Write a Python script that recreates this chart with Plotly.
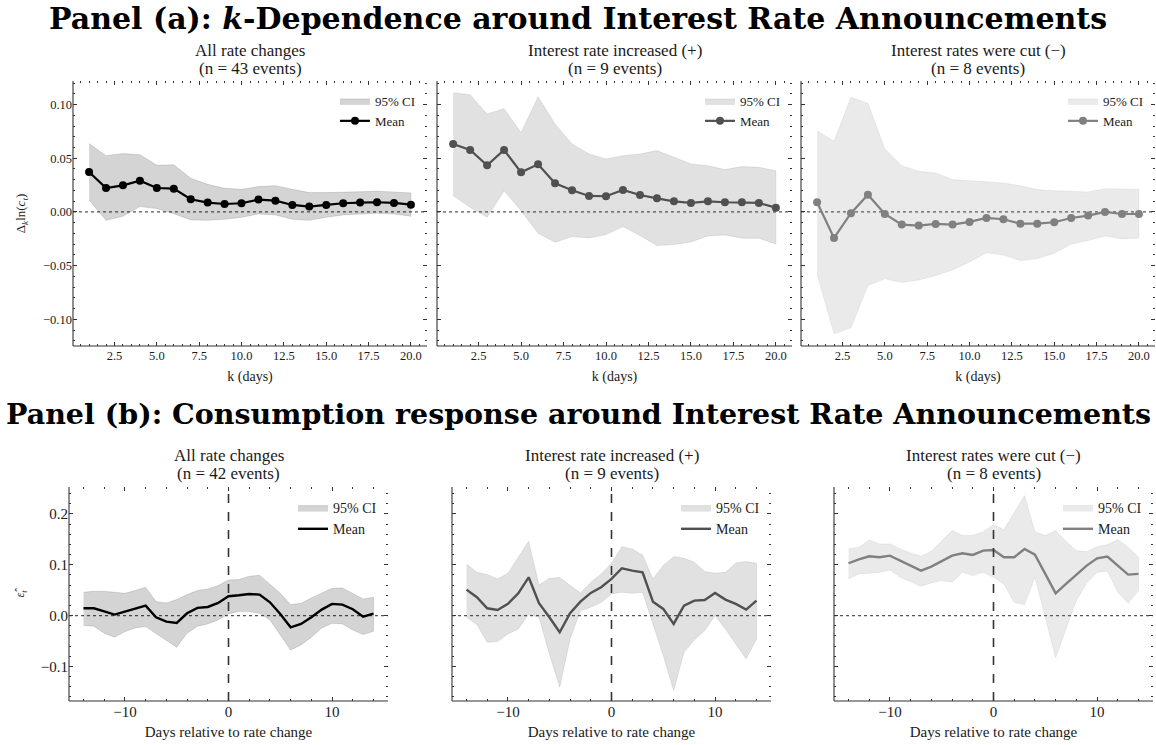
import plotly.graph_objects as go

# ---------------- data ----------------
k_days = list(range(1, 21))
event_days = list(range(-14, 15))

# Panel (a): k-dependence of Δk ln(c_t)
a_all_mean = [0.0372, 0.0223, 0.0248, 0.0291, 0.0223, 0.0217, 0.0118, 0.0087, 0.0074, 0.0081,
              0.0115, 0.0105, 0.0065, 0.0050, 0.0065, 0.0081, 0.0087, 0.0090, 0.0084, 0.0068]
a_all_hi = [0.0636, 0.0524, 0.0543, 0.0533, 0.0434, 0.0440, 0.0313, 0.0257, 0.0220, 0.0211,
            0.0236, 0.0245, 0.0211, 0.0180, 0.0180, 0.0186, 0.0186, 0.0192, 0.0186, 0.0177]
a_all_lo = [0.0112, -0.0078, -0.0040, 0.0050, 0.0031, -0.0016, -0.0074, -0.0078, -0.0068, -0.0050,
            -0.0019, -0.0028, -0.0068, -0.0078, -0.0050, -0.0028, -0.0019, -0.0012, -0.0019, -0.0040]

a_up_mean = [0.0633, 0.0577, 0.0434, 0.0577, 0.0369, 0.0443, 0.0267, 0.0202, 0.0149, 0.0146,
             0.0205, 0.0158, 0.0127, 0.0099, 0.0084, 0.0099, 0.0090, 0.0090, 0.0084, 0.0040]
a_up_hi = [0.1110, 0.1091, 0.0912, 0.0961, 0.0738, 0.1073, 0.0819, 0.0633, 0.0540, 0.0493,
           0.0524, 0.0540, 0.0571, 0.0509, 0.0447, 0.0431, 0.0394, 0.0422, 0.0416, 0.0384]
a_up_lo = [0.0152, 0.0043, -0.0050, 0.0198, 0.0012, -0.0198, -0.0282, -0.0229, -0.0242, -0.0211,
           -0.0136, -0.0220, -0.0313, -0.0304, -0.0279, -0.0223, -0.0214, -0.0245, -0.0245, -0.0298]

a_cut_mean = [0.0090, -0.0242, -0.0012, 0.0161, -0.0019, -0.0118, -0.0127, -0.0112, -0.0118, -0.0093,
              -0.0056, -0.0068, -0.0109, -0.0109, -0.0096, -0.0056, -0.0034, 0.0000, -0.0019, -0.0019]
a_cut_hi = [0.0757, 0.0657, 0.1067, 0.1011, 0.0586, 0.0431, 0.0378, 0.0363, 0.0301, 0.0291,
            0.0276, 0.0270, 0.0245, 0.0208, 0.0198, 0.0192, 0.0186, 0.0217, 0.0214, 0.0211]
a_cut_lo = [-0.0577, -0.1135, -0.1079, -0.0685, -0.0623, -0.0657, -0.0633, -0.0592, -0.0540, -0.0465,
            -0.0381, -0.0400, -0.0453, -0.0434, -0.0384, -0.0298, -0.0267, -0.0223, -0.0251, -0.0242]

# Panel (b): consumption residual around the announcement day
b_all_mean = [0.0144, 0.0144, 0.0085, 0.0020, 0.0079, 0.0144, 0.0197, -0.0033, -0.0118, -0.0144,
              0.0046, 0.0151, 0.0170, 0.0249, 0.0380, 0.0400, 0.0426, 0.0413, 0.0262, 0.0033,
              -0.0230, -0.0164, -0.0033, 0.0118, 0.0230, 0.0216, 0.0125, -0.0020, 0.0039]
b_all_hi = [0.0459, 0.0479, 0.0479, 0.0459, 0.0439, 0.0492, 0.0557, 0.0275, 0.0249, 0.0315,
            0.0413, 0.0492, 0.0525, 0.0590, 0.0702, 0.0708, 0.0774, 0.0793, 0.0623, 0.0439,
            0.0216, 0.0243, 0.0348, 0.0439, 0.0538, 0.0544, 0.0439, 0.0328, 0.0361]
b_all_lo = [-0.0197, -0.0210, -0.0348, -0.0426, -0.0315, -0.0243, -0.0216, -0.0361, -0.0492, -0.0623,
            -0.0348, -0.0210, -0.0164, -0.0085, 0.0033, 0.0085, 0.0079, 0.0046, -0.0085, -0.0380,
            -0.0675, -0.0577, -0.0426, -0.0243, -0.0151, -0.0164, -0.0282, -0.0374, -0.0308]

b_up_mean = [0.0511, 0.0361, 0.0144, 0.0111, 0.0230, 0.0439, 0.0754, 0.0243, -0.0033, -0.0328,
             0.0046, 0.0275, 0.0446, 0.0557, 0.0721, 0.0931, 0.0885, 0.0852, 0.0275, 0.0131,
             -0.0164, 0.0197, 0.0295, 0.0308, 0.0446, 0.0315, 0.0230, 0.0118, 0.0295]
b_up_hi = [0.1016, 0.0852, 0.0807, 0.0721, 0.0833, 0.1148, 0.1462, 0.0603, 0.0734, 0.0748,
           0.0590, 0.0446, 0.0656, 0.0820, 0.1030, 0.1357, 0.1311, 0.1193, 0.0721, 0.0984,
           0.1161, 0.1128, 0.1049, 0.0866, 0.0833, 0.0852, 0.1036, 0.1062, 0.1030]
b_up_lo = [-0.0033, -0.0177, -0.0525, -0.0511, -0.0361, -0.0262, 0.0020, -0.0033, -0.0754, -0.1410,
           -0.0459, 0.0098, 0.0164, 0.0262, 0.0426, 0.0459, 0.0439, 0.0459, -0.0164, -0.0787,
           -0.1475, -0.0721, -0.0479, -0.0295, 0.0000, -0.0262, -0.0544, -0.0852, -0.0459]

b_cut_mean = [0.1030, 0.1108, 0.1167, 0.1148, 0.1180, 0.1082, 0.0977, 0.0885, 0.0964, 0.1069,
              0.1180, 0.1226, 0.1193, 0.1279, 0.1292, 0.1148, 0.1148, 0.1311, 0.1200, 0.0820,
              0.0439, 0.0623, 0.0807, 0.0984, 0.1128, 0.1161, 0.0984, 0.0807, 0.0820]
b_cut_hi = [0.1311, 0.1344, 0.1489, 0.1410, 0.1410, 0.1311, 0.1233, 0.1167, 0.1266, 0.1462,
            0.1672, 0.1574, 0.1574, 0.1652, 0.1790, 0.1692, 0.2033, 0.2361, 0.1652, 0.1574,
            0.1672, 0.1456, 0.1279, 0.1259, 0.1357, 0.1397, 0.1495, 0.1344, 0.1148]
b_cut_lo = [0.0721, 0.0820, 0.0833, 0.0852, 0.0898, 0.0754, 0.0669, 0.0577, 0.0643, 0.0689,
            0.0656, 0.0852, 0.0787, 0.0852, 0.0754, 0.0623, 0.0262, 0.0216, 0.0754, -0.0033,
            -0.0833, -0.0262, 0.0295, 0.0636, 0.0852, 0.0872, 0.0459, 0.0243, 0.0492]

titles_a = [("All rate changes", "(n = 43 events)"),
            ("Interest rate increased (+)", "(n = 9 events)"),
            ("Interest rates were cut (\u2212)", "(n = 8 events)")]
titles_b = [("All rate changes", "(n = 42 events)"),
            ("Interest rate increased (+)", "(n = 9 events)"),
            ("Interest rates were cut (\u2212)", "(n = 8 events)")]
shade_rgb = [(0, 0, 0), (80, 80, 80), (128, 128, 128)]

# ---------------- layout geometry (pixels) ----------------
W, H = 1156, 745
SERIF = "Liberation Serif, Times New Roman, serif"
TXT = "#1a1a1a"
AXC = "#333333"

a_cols = [(73, 427), (437, 792), (801, 1155)]
b_cols = [(69, 388), (452, 771), (834, 1153)]
a_rows = (81, 346)
b_rows = (487, 701)


def xd(px):
    return [px[0] / W, px[1] / W]


def yd(px):
    return [1 - px[1] / H, 1 - px[0] / H]


fig = go.Figure()
layout = dict(
    width=W, height=H,
    margin=dict(l=0, r=0, t=0, b=0),
    paper_bgcolor="white", plot_bgcolor="white",
    font=dict(family=SERIF, color=TXT),
    showlegend=True,
)
shapes = []
annotations = []

panels = [
    ("a", k_days, [(a_all_mean, a_all_hi, a_all_lo), (a_up_mean, a_up_hi, a_up_lo),
                   (a_cut_mean, a_cut_hi, a_cut_lo)], a_cols, a_rows, titles_a, (55, 73)),
    ("b", event_days, [(b_all_mean, b_all_hi, b_all_lo), (b_up_mean, b_up_hi, b_up_lo),
                       (b_cut_mean, b_cut_hi, b_cut_lo)], b_cols, b_rows, titles_b, (460, 478)),
]

idx = 0
for pname, xs, series, cols, rows, titles, baselines in panels:
    for j, ((mean, hi, lo), col, title) in enumerate(zip(series, cols, titles)):
        idx += 1
        sfx = "" if idx == 1 else str(idx)
        xr, yr = "x" + sfx, "y" + sfx
        lg = "legend" + sfx
        r, g, b = shade_rgb[j]
        line_c = f"rgb({r},{g},{b})"
        fill_c = f"rgba({r},{g},{b},0.17)"
        edge_c = f"rgba({r},{g},{b},0.12)"

        # confidence band as closed polygon
        fig.add_trace(go.Scatter(
            x=xs + xs[::-1], y=hi + lo[::-1], xaxis=xr, yaxis=yr,
            mode="lines", fill="toself", fillcolor=fill_c,
            line=dict(color=edge_c, width=1), name="95% CI",
            legend=lg, hoverinfo="skip"))
        # mean path
        if pname == "a":
            fig.add_trace(go.Scatter(
                x=xs, y=mean, xaxis=xr, yaxis=yr, mode="lines+markers",
                line=dict(color=line_c, width=2.2),
                marker=dict(color=line_c, size=8), name="Mean", legend=lg))
        else:
            fig.add_trace(go.Scatter(
                x=xs, y=mean, xaxis=xr, yaxis=yr, mode="lines",
                line=dict(color=line_c, width=2.4), name="Mean", legend=lg))

        if pname == "a":
            xrange_, yrange_ = [0.05, 20.95], [-0.1248, 0.1219]
            xmaj, xmin_, ymaj, ymin_ = 2.5, 0.5, 0.05, 0.01
            xfmt, yfmt, tfs, lfs = ".1f", ".2f", 12.5, 13
            xtitle = dict(text="k (days)", font=dict(size=14), standoff=9)
        else:
            xrange_, yrange_ = [-15.4, 15.4], [-0.168, 0.253]
            xmaj, xmin_, ymaj, ymin_ = 10, 2, 0.1, 0.02
            xfmt, yfmt, tfs, lfs = "d", ".1f", 15, 14
            xtitle = dict(text="Days relative to rate change", font=dict(size=15), standoff=7)

        common = dict(ticks="inside", ticklen=4, tickwidth=0.8, tickcolor=AXC,
                      mirror="ticks", showline=False, showgrid=False, zeroline=False,
                      tickfont=dict(size=tfs, color=TXT))
        layout["xaxis" + sfx] = dict(
            domain=xd(col), anchor=yr, range=xrange_, dtick=xmaj, tick0=0,
            tickformat=xfmt, title=xtitle,
            minor=dict(ticks="inside", ticklen=2, tickwidth=0.7, tickcolor=AXC, dtick=xmin_),
            **common)
        ytitle = None
        if j == 0:
            if pname == "a":
                ytitle = dict(text="\u0394<sub><i>k</i></sub>ln(<i>c<sub>t</sub></i>)",
                              font=dict(size=13), standoff=14)
            else:
                ytitle = dict(text="<i>\u03b5\u0302<sub>t</sub></i>",
                              font=dict(size=12), standoff=13)
        layout["yaxis" + sfx] = dict(
            domain=yd(rows), anchor=xr, range=yrange_, dtick=ymaj, tick0=0,
            tickformat=yfmt, showticklabels=(j == 0), title=ytitle,
            minor=dict(ticks="inside", ticklen=2, tickwidth=0.7, tickcolor=AXC, dtick=ymin_),
            **common)

        # left and bottom spines
        dom_x, dom_y = xr + " domain", yr + " domain"
        shapes.append(dict(type="line", xref=dom_x, yref=dom_y, x0=0, x1=0, y0=0, y1=1,
                           line=dict(color=AXC, width=1.1)))
        shapes.append(dict(type="line", xref=dom_x, yref=dom_y, x0=0, x1=1, y0=0, y1=0,
                           line=dict(color=AXC, width=1.1)))
        # zero reference line
        shapes.append(dict(type="line", xref=dom_x, yref=yr, x0=0, x1=1, y0=0, y1=0,
                           line=dict(color="#555555", width=1.3, dash="dot"), layer="below"))
        if pname == "b":
            shapes.append(dict(type="line", xref=xr, yref=dom_y, x0=0, x1=0, y0=0, y1=1,
                               line=dict(color="#333333", width=1.6, dash="dash")))

        # subplot title, two lines placed by baseline
        for line_text, base in zip(title, baselines):
            annotations.append(dict(
                text=line_text, xref="paper", yref="paper",
                x=(col[0] + col[1]) / 2 / W, y=1 - (base + 7) / H,
                xanchor="center", yanchor="bottom", showarrow=False,
                font=dict(size=17, color=TXT)))

        # legend inside the upper-right corner
        layout[lg] = dict(
            x=(col[1] - 6) / W, y=1 - (rows[0] + 5) / H, xanchor="right", yanchor="top",
            bgcolor="rgba(0,0,0,0)", borderwidth=0, font=dict(size=lfs, color=TXT),
            tracegroupgap=0, itemwidth=30)

# panel headings
annotations.append(dict(
    text="<b>Panel (a): <i>k</i>-Dependence around Interest Rate Announcements</b>",
    xref="paper", yref="paper", x=0.5, y=1 - 18 / H, xanchor="center", yanchor="middle",
    showarrow=False, font=dict(family="DejaVu Serif", size=30, color="#000000")))
annotations.append(dict(
    text="<b>Panel (b): Consumption response around Interest Rate Announcements</b>",
    xref="paper", yref="paper", x=0.5, y=1 - 414 / H, xanchor="center", yanchor="middle",
    showarrow=False, font=dict(family="DejaVu Serif", size=28.5, color="#000000")))

layout["shapes"] = shapes
layout["annotations"] = annotations
fig.update_layout(**layout)

fig.write_html("out.html")
